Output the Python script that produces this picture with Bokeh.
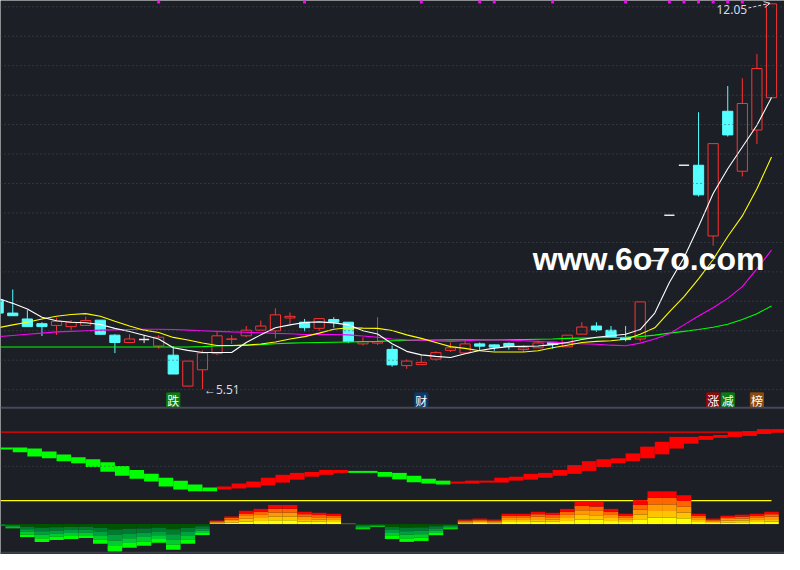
from bokeh.plotting import figure
from bokeh.models import ColumnDataSource, Range1d, Span, Arrow, OpenHead
from bokeh.core.properties import value
from bokeh.embed import file_html
from bokeh.resources import INLINE

BG = "#1c1f26"
UP = "#ff3232"
DOWN = "#54ffff"
FLAT = "#e8e8e8"

# ---------------- data ----------------
days = list(range(-1, 53))
opens = [7.02, 6.80, 6.70, 6.62, 6.59, 6.57, 6.59, 6.68, 6.425, 6.30, 6.35, 6.24, 6.085, 5.56, 5.837,
         6.112, 6.355, 6.414, 6.51, 6.497, 6.717, 6.645, 6.541, 6.69, 6.645, 6.277, 6.29, 6.183, 5.908,
         5.925, 6.018, 6.167, 6.123, 6.277, 6.26, 6.285, 6.18, 6.21, 6.304, 6.227, 6.442, 6.58, 6.508,
         6.387, 6.36, 7.69, 8.46, 9.31, 9.31, 8.109, 10.226, 9.208, 9.908, 10.457]
closes = [6.80, 6.755, 6.57, 6.57, 6.66, 6.645, 6.673, 6.44, 6.30, 6.36, 6.35, 6.39, 5.765, 5.985, 6.123,
          6.414, 6.36, 6.51, 6.58, 6.77, 6.745, 6.552, 6.706, 6.645, 6.315, 6.315, 6.315, 5.92, 5.985,
          5.963, 6.128, 6.21, 6.277, 6.238, 6.222, 6.235, 6.21, 6.293, 6.266, 6.425, 6.563, 6.513, 6.387,
          6.35, 6.99, 7.69, 8.46, 9.31, 8.807, 9.677, 9.825, 10.358, 10.952, 12.05]
highs = [7.05, 7.20, 6.85, 6.645, 6.72, 6.68, 6.74, 6.68, 6.44, 6.44, 6.425, 6.425, 6.24, 5.985, 6.167,
         6.48, 6.425, 6.58, 6.673, 6.88, 6.81, 6.70, 6.706, 6.73, 6.645, 6.387, 6.73, 6.25, 6.013, 6.095,
         6.15, 6.30, 6.343, 6.30, 6.27, 6.30, 6.25, 6.33, 6.304, 6.425, 6.645, 6.645, 6.58, 6.58, 6.99,
         7.69, 8.46, 9.31, 10.21, 9.677, 10.655, 10.787, 11.20, 12.05]
lows = [6.80, 6.755, 6.57, 6.41, 6.43, 6.51, 6.59, 6.43, 6.12, 6.30, 6.29, 6.195, 5.765, 5.56, 5.51,
        6.085, 6.277, 6.39, 6.51, 6.37, 6.607, 6.49, 6.497, 6.552, 6.29, 6.25, 6.26, 5.89, 5.853, 5.925,
        5.99, 6.14, 6.123, 6.167, 6.16, 6.18, 6.14, 6.21, 6.195, 6.227, 6.442, 6.48, 6.387, 6.32, 6.32,
        7.69, 8.46, 9.31, 8.78, 7.944, 9.797, 9.12, 9.67, 10.457]

ma5 = [7.05, 6.965, 6.87, 6.73, 6.67, 6.645, 6.635, 6.607, 6.54, 6.486, 6.425, 6.36, 6.21, 6.167, 6.13,
       6.13, 6.13, 6.30, 6.43, 6.55, 6.60, 6.64, 6.651, 6.634, 6.60, 6.50, 6.445, 6.28, 6.15, 6.09,
       6.065, 6.045, 6.11, 6.165, 6.205, 6.23, 6.235, 6.24, 6.265, 6.30, 6.35, 6.39, 6.415, 6.44, 6.52,
       6.80, 7.32, 7.74, 8.27, 8.83, 9.25, 9.62, 9.99, 10.46]
ma10 = [6.55, 6.60, 6.645, 6.70, 6.745, 6.775, 6.79, 6.745, 6.66, 6.58, 6.51, 6.47, 6.387, 6.343, 6.293,
        6.25, 6.25, 6.255, 6.275, 6.31, 6.36, 6.40, 6.46, 6.525, 6.552, 6.545, 6.54, 6.505, 6.43, 6.37,
        6.30, 6.23, 6.20, 6.16, 6.14, 6.14, 6.14, 6.16, 6.21, 6.255, 6.30, 6.32, 6.33, 6.355, 6.44,
        6.55, 6.82, 7.08, 7.38, 7.71, 8.10, 8.45, 8.91, 9.45]
ma20 = [6.40, 6.42, 6.44, 6.46, 6.48, 6.49, 6.50, 6.51, 6.515, 6.52, 6.525, 6.525, 6.52, 6.51, 6.50,
        6.49, 6.48, 6.475, 6.465, 6.455, 6.45, 6.435, 6.44, 6.435, 6.43, 6.41, 6.39, 6.36, 6.345, 6.34,
        6.33, 6.32, 6.33, 6.345, 6.35, 6.34, 6.33, 6.32, 6.305, 6.29, 6.28, 6.27, 6.255, 6.245, 6.29,
        6.36, 6.45, 6.60, 6.75, 6.89, 7.05, 7.25, 7.55, 7.87]
ma60 = [6.225, 6.225, 6.225, 6.225, 6.225, 6.225, 6.225, 6.225, 6.225, 6.225, 6.225, 6.225, 6.225, 6.225,
        6.23, 6.24, 6.245, 6.255, 6.265, 6.28, 6.29, 6.295, 6.30, 6.305, 6.31, 6.315, 6.32, 6.33, 6.335,
        6.34, 6.343, 6.345, 6.345, 6.345, 6.345, 6.35, 6.35, 6.355, 6.36, 6.37, 6.375, 6.38, 6.385, 6.39,
        6.40, 6.425, 6.46, 6.49, 6.52, 6.56, 6.61, 6.69, 6.79, 6.92]

price_grid = [5.5, 6.0, 6.5, 7.0, 7.5, 8.0, 8.5, 9.0, 9.5, 10.0, 10.5, 11.0, 11.5, 12.0]
low_label = "←5.51"
high_label = "12.05"
watermark = "www.6o7o.com"

event_days = [11, 28, 48, 49, 51]
event_texts = ["跌", "财", "涨", "减", "榜"]
event_colors = ["#0b7a12", "#0d3a6a", "#8a0a0a", "#0a7a14", "#8a4a0c"]
mark_days = [10, 20, 28, 32, 33, 37, 42, 45, 46, 47, 48, 49, 50]

# indicator band: one segment per day, spanning previous day -> this day
band_end = list(range(0, 54))
band_hi = [77.3, 77.3, 75.9, 71.6, 67.4, 63.1, 60.3, 56.0, 50.4, 44.7, 39.0, 33.3, 29.1, 23.4, 19.2,
           20.6, 24.8, 27.7, 33.3, 37.6, 40.4, 41.8, 44.7, 44.7, 43.3, 43.3, 41.8, 40.4, 36.2, 31.9,
           29.1, 27.7, 29.1, 29.1, 33.3, 34.8, 39.0, 40.4, 44.7, 51.8, 57.5, 60.3, 61.7, 68.8, 78.7,
           85.8, 92.9, 92.9, 94.3, 95.7, 100.0, 101.4, 104.3, 104.3]
band_lo = [74.5, 70.7, 64.5, 61.7, 57.5, 54.6, 49.0, 41.9, 36.2, 31.9, 27.7, 20.6, 16.3, 13.5, 13.5,
           16.3, 17.7, 19.2, 22.0, 26.2, 30.5, 34.8, 37.6, 40.4, 40.4, 40.4, 34.8, 31.0, 26.7, 24.8,
           23.4, 24.8, 24.8, 26.2, 26.2, 29.1, 30.5, 33.3, 36.2, 39.0, 43.3, 49.0, 54.6, 57.5, 61.7,
           67.4, 75.9, 83.0, 88.6, 91.5, 92.9, 94.3, 97.2, 100.0]
band_dir = ["G"] * 15 + ["R"] * 9 + ["G"] * 7 + ["R"] * 23

# energy histogram (one bar per day)
hist = [-2.0, -6.1, -18.9, -26.0, -23.2, -21.7, -20.3, -28.8, -40.2, -34.5, -31.7, -27.4, -37.4, -28.8,
        -16.1, 5.2, 10.9, 19.4, 22.2, 27.9, 27.9, 18.0, 16.5, 15.1, 1.0, -7.6, -4.3, -21.7, -26.0, -24.6,
        -16.1, -7.6, 6.6, 8.0, 6.6, 15.1, 15.1, 18.0, 16.5, 22.2, 33.6, 32.1, 22.2, 15.1, 35.0, 47.8,
        47.8, 42.1, 15.1, 8.0, 12.3, 13.7, 15.1, 18.0]
hist_base = -34.3
ind_top_level = 100
ind_mid_level = 50
ind_zero_level = 0

# ---------------- figure ----------------
p = figure(width=784, height=554, x_range=Range1d(-0.84, 52.89), y_range=Range1d(2.701, 12.107),
           x_axis_type=None, y_axis_type=None, toolbar_location=None, output_backend="svg",
           background_fill_color=BG, border_fill_color=BG, outline_line_color=None, min_border=0)
p.extra_y_ranges = {"ind": Range1d(-78.7, 729.8)}
p.grid.visible = False

for g in price_grid:
    p.add_layout(Span(location=g, dimension="width", line_color="#4a4e58", line_width=1,
                      line_dash="1 3"))
p.add_layout(Span(location=5.193, dimension="width", line_color="#464a54", line_width=2))

# candles
src = ColumnDataSource(dict(x=days, o=opens, c=closes, h=highs, l=lows))
col, mid, hgt = [], [], []
for o, c in zip(opens, closes):
    col.append(UP if c > o else (DOWN if c < o else FLAT))
    mid.append((o + c) / 2)
    hgt.append(abs(c - o))
src.data["col"] = col
src.data["mid"] = mid
src.data["hgt"] = hgt
src.data["fill"] = [BG if cc == UP else cc for cc in col]

p.segment(x0="x", y0="l", x1="x", y1="h", line_color="col", line_width=1, source=src)
body = [i for i, (o, c) in enumerate(zip(opens, closes)) if o != c]
bsrc = ColumnDataSource({k: [v[i] for i in body] for k, v in src.data.items()})
p.rect(x="x", y="mid", width=0.7, height="hgt", fill_color="fill", line_color="col", line_width=1,
       source=bsrc)
flat = [i for i, (o, c) in enumerate(zip(opens, closes)) if o == c]
p.segment(x0=[days[i] - 0.35 for i in flat], y0=[opens[i] for i in flat],
          x1=[days[i] + 0.35 for i in flat], y1=[opens[i] for i in flat],
          line_color=FLAT, line_width=1.5)

# moving averages
p.line(days, ma60, line_color="#00ff00", line_width=1.1)
p.line(days, ma20, line_color="#ff00ff", line_width=1.1)
p.line(days, ma10, line_color="#ffff00", line_width=1.1)
p.line(days, ma5, line_color="#ffffff", line_width=1.1)

# top marks
p.rect(x=mark_days, y=[12.085] * len(mark_days), width=0.2, height=0.06,
       fill_color="#ff00ff", line_color=None)

# price labels
p.text(x=[13.1], y=[5.51], text=[low_label], text_color="#d8dce4", text_font=value("Noto Sans"),
       text_font_size="12px", text_baseline="middle", text_align="left")
p.text(x=[50.33], y=[11.955], text=[high_label], text_color="#d8dce4", text_font=value("Noto Sans"),
       text_font_size="12px", text_baseline="middle", text_align="right")
p.add_layout(Arrow(end=OpenHead(size=6, line_color="#d8dce4", line_width=1), x_start=50.42,
                   y_start=11.98, x_end=51.9, y_end=12.06, line_color="#d8dce4", line_width=1,
                   line_dash="3 2"))

# event icons
p.rect(x=event_days, y=[5.325] * 5, width=0.9, height=0.24, fill_color=event_colors,
       line_color=event_colors)
p.text(x=event_days, y=[5.318] * 5, text=event_texts, text_color="#ffffff",
       text_font=value("Noto Sans CJK SC"), text_font_size="12px", text_baseline="middle",
       text_align="center")

# watermark
p.text(x=[35.63], y=[7.72], text=[watermark], text_color="#ffffff",
       text_font=value("Liberation Sans"), text_font_style="bold", text_font_size="32px",
       text_baseline="middle", text_align="left")

# ---------------- lower indicator panel ----------------
p.add_layout(Span(location=ind_top_level, dimension="width", line_color="#ff0000", line_width=1.3,
                  y_range_name="ind"))
p.add_layout(Span(location=ind_mid_level, dimension="width", line_color="#4a4e58", line_width=1,
                  line_dash="1 3", y_range_name="ind"))
p.segment(x0=[-0.84], y0=[ind_zero_level], x1=[52], y1=[ind_zero_level], line_color="#ffff00",
          line_width=1.2, y_range_name="ind")

bcol = ["#00ff00" if d == "G" else "#ff0000" for d in band_dir]
p.quad(left=[e - 1 for e in band_end], right=band_end, top=band_hi, bottom=band_lo,
       fill_color=bcol, line_color=None, y_range_name="ind")

pos_cols = ["#ffff00", "#ffc400", "#ff9a00", "#ff6600", "#ff0000"]
neg_cols = ["#005400", "#007a30", "#00a03c", "#00cc30", "#00ff00"]
for layer in range(5):
    L, R, T, B, C = [], [], [], [], []
    for d, h in zip(days, hist):
        a = hist_base + h * layer / 5
        b = hist_base + h * (layer + 1) / 5
        L.append(d - 0.5)
        R.append(d + 0.5)
        T.append(max(a, b))
        B.append(min(a, b))
        C.append(pos_cols[layer] if h > 0 else neg_cols[layer])
    p.quad(left=L, right=R, top=T, bottom=B, fill_color=C, line_color=None, y_range_name="ind")

p.add_layout(Span(location=-76.0, dimension="width", line_color="#3c4049", line_width=2,
                  y_range_name="ind"))

open("out.html", "w").write(file_html(p, INLINE))
